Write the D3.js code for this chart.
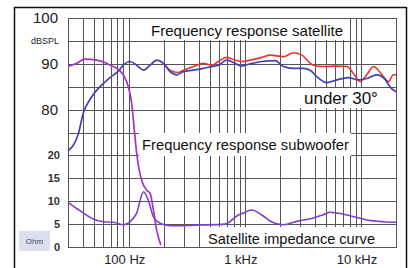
<!DOCTYPE html>
<html>
<head>
<meta charset="UTF-8">
<title></title>
<style>
    body { margin: 0; background: #fff; }
    svg text { font-family: 'Liberation Sans', Arial, sans-serif; }
    .grid line { stroke: #555; shape-rendering: crispEdges; }
    .label { font-size: 15px; fill: #111; }
</style>
</head>
<body>
<script src="https://d3js.org/d3.v7.min.js"></script>
<script>
    /// data (frequency in Hz, level in dB SPL, impedance in ohm)
    var subFreq = [30, 35.6, 42, 53, 64.6, 69, 78.8, 89.8, 99.2, 106, 111, 117, 123, 132, 143, 153, 163, 174, 189];
    var subDb   = [89.4, 90.1, 91, 90.8, 90.1, 89.7, 89, 87.6, 85, 81.4, 76.3, 70.5, 66.8, 63.9, 62.4, 61.7, 58.1, 53.7, 50.4];

    var satFreq = [30, 36.8, 40.6, 48, 56.6, 69, 81.4, 89.8, 102.6, 117, 134, 153, 174, 199, 227, 259, 295, 360, 439, 519, 591, 698, 823, 940, 1108, 1398, 1820, 2146, 2616, 3190, 3645, 4162, 5073, 6189, 7792, 9495, 11218, 13680, 16120, 17810, 20000];
    var satDb   = [71, 74.7, 79.2, 82.8, 85, 87, 88.4, 89.7, 90.5, 89.7, 88.6, 89.7, 90.8, 90.1, 88.3, 87.6, 88.3, 88.6, 89, 89.4, 89.7, 90.8, 90.1, 89.5, 90, 90.5, 90.7, 89.4, 89, 89, 88.6, 87.2, 85.9, 86.5, 87, 86.5, 86.8, 87.6, 86.6, 84.9, 83.9];

    var offFreq = [199, 227, 266, 295, 360, 439, 519, 591, 698, 823, 940, 1108, 1398, 1649, 2146, 2616, 3090, 3890, 4744, 6189, 7546, 8601, 9820, 11218, 12790, 14120, 15590, 17220, 19010, 20000];
    var offDb   = [90.1, 88.6, 88.1, 88.6, 89.4, 90.1, 89.7, 90.5, 91.4, 90.8, 90.5, 90.8, 91.4, 91.9, 91.55, 92.4, 91.9, 89.7, 89.4, 89.5, 89.4, 87.9, 86.1, 87.6, 89.4, 88.6, 87.2, 86.1, 87.6, 87.6];

    var impFreq = [30, 38, 49.6, 60.4, 73.7, 89.8, 102.6, 117, 134, 147, 163, 186, 227, 411, 675, 879, 1004, 1146, 1398, 1704, 2146, 2800, 3890, 4744, 5418, 6189, 8056, 11218, 15590, 20000];
    var impOhm  = [9.76, 7.93, 6.11, 5.52, 5.39, 4.87, 5.5, 7.4, 12.07, 10.26, 6.62, 5.17, 4.65, 4.8, 5.0, 7.0, 7.6, 8.08, 7.0, 5.46, 4.87, 5.6, 6.33, 7.05, 7.58, 7.42, 6.83, 5.9, 5.52, 5.39];

    var gridFreq = [30, 40, 50, 60, 70, 80, 90, 100, 200, 300, 400, 500, 600, 700, 800, 900, 1000,
                    2000, 3000, 4000, 5000, 6000, 7000, 8000, 9000, 10000, 20000];
    var gridDb = [50, 55, 60, 65, 70, 75, 80, 85, 90, 95, 100];
    var xTicks = [100, 1000, 10000];
    var xTickLabels = ["100 Hz", "1 kHz", "10 kHz"];
    var dbTicks = [100, 90, 80];
    var ohmTicks = [20, 15, 10, 5, 0];

    /// main
    var width = 411, height = 268;
    var svg = d3.select("body").append("svg")
        .attr("width", width)
        .attr("height", height);

    var x = d3.scaleLog().domain([30, 20000]).range([68, 396]);
    var y = d3.scaleLinear().domain([50, 100]).range([247, 18]);
    var yOhm = d3.scaleLinear().domain([0, 50]).range([247, 18]);

    // outer frame
    svg.append("rect")
        .attr("x", 14.5).attr("y", 7.5)
        .attr("width", 392).attr("height", 270)
        .attr("fill", "none")
        .attr("stroke", "#111")
        .attr("stroke-width", 1.5);

    // grid
    var grid = svg.append("g").attr("class", "grid");
    grid.selectAll(".v").data(gridFreq).enter().append("line")
        .attr("x1", function(d) { return Math.round(x(d)) + 0.5; })
        .attr("x2", function(d) { return Math.round(x(d)) + 0.5; })
        .attr("y1", y(100)).attr("y2", y(50) + 1)
        .attr("stroke-width", 1);
    grid.selectAll(".h").data(gridDb).enter().append("line")
        .attr("x1", x(30)).attr("x2", x(20000) + 1)
        .attr("y1", function(d) { return Math.round(y(d)) + 0.5; })
        .attr("y2", function(d) { return Math.round(y(d)) + 0.5; })
        .attr("stroke", "#3a3a3a")
        .attr("stroke-width", 1);

    // label boxes that hide the grid
    var boxes = [
        [147, 19, 200, 21],
        [298, 88, 95, 20],
        [139, 133, 212, 23],
        [204, 227, 192, 20]
    ];
    svg.selectAll(".box").data(boxes).enter().append("rect")
        .attr("x", function(d) { return d[0]; })
        .attr("y", function(d) { return d[1]; })
        .attr("width", function(d) { return d[2]; })
        .attr("height", function(d) { return d[3]; })
        .attr("fill", "#fff");

    // curves
    function drawCurve(fs, vs, scale, color, w) {
        var pts = fs.map(function(f, i) { return [f, vs[i]]; });
        var line = d3.line()
            .x(function(d) { return x(d[0]); })
            .y(function(d) { return scale(d[1]); })
            .curve(d3.curveMonotoneX);
        svg.append("path")
            .datum(pts)
            .attr("d", line)
            .attr("fill", "none")
            .attr("stroke", color)
            .attr("stroke-width", w)
            .attr("stroke-linejoin", "round");
    }
    drawCurve(impFreq, impOhm, yOhm, "#7d3fcb", 1.6);
    drawCurve(offFreq, offDb, y, "#e5352b", 1.6);
    drawCurve(satFreq, satDb, y, "#4340b8", 1.7);
    drawCurve(subFreq, subDb, y, "#a434c8", 1.7);

    // annotations
    function label(tx, ty, len, s) {
        var t = svg.append("text").attr("class", "label")
            .attr("x", tx).attr("y", ty)
            .text(s);
        if (len) t.attr("textLength", len).attr("lengthAdjust", "spacingAndGlyphs");
        return t;
    }
    label(151, 36, 192, "Frequency response satellite");
    label(304, 104, null, "under 30°").style("font-size", "17px");
    label(142, 150, 207, "Frequency response subwoofer");
    label(208, 244, 167, "Satellite impedance curve");

    // y labels
    svg.selectAll(".dbt").data(dbTicks).enter().append("text")
        .attr("x", 58).attr("y", function(d) { return y(d) + 5; })
        .attr("text-anchor", "end")
        .style("font-size", "15px").style("fill", "#222")
        .text(function(d) { return d; });
    svg.append("text")
        .attr("x", 59).attr("y", y(95) + 3)
        .attr("text-anchor", "end")
        .style("font-size", "9px").style("fill", "#222")
        .text("dBSPL");

    svg.append("rect")
        .attr("x", 19).attr("y", 231)
        .attr("width", 31).attr("height", 20)
        .attr("fill", "#dddff0");
    svg.append("text")
        .attr("x", 34.5).attr("y", 244)
        .attr("text-anchor", "middle")
        .style("font-size", "8px").style("fill", "#445")
        .text("Ohm");
    svg.selectAll(".ot").data(ohmTicks).enter().append("text")
        .attr("x", 60).attr("y", function(d) { return yOhm(d) + 4; })
        .attr("text-anchor", "end")
        .style("font-size", "11px").style("font-weight", "bold").style("fill", "#333")
        .text(function(d) { return d; });

    // x labels
    svg.selectAll(".xt").data(xTicks).enter().append("text")
        .attr("x", function(d) { return x(d) - 4; })
        .attr("y", 264)
        .attr("text-anchor", "middle")
        .style("font-size", "13px").style("fill", "#222")
        .text(function(d, i) { return xTickLabels[i]; });
</script>
</body>
</html>
